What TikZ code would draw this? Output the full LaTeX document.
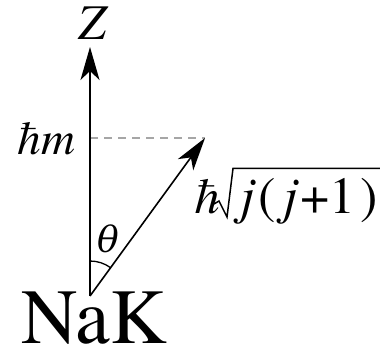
\documentclass[tikz,border=0pt]{standalone}
\usepackage{fontspec}
\IfFontExistsTF{texgyretermes-regular.otf}
 {\setmainfont{texgyretermes}[Extension=.otf,UprightFont=*-regular,ItalicFont=*-italic]}
 {\setmainfont{Liberation Serif}}
\newfontfamily\grkfont{DejaVu Serif}
\usetikzlibrary{arrows.meta,calc}
\tikzset{
  lbl/.style={inner sep=0pt, outer sep=0pt},
  vec/.style={line width=1.6pt, -{Stealth[length=33pt,width=19pt,inset=9pt]}},
  proj/.style={line width=1.3pt, gray!70, dash pattern=on 8pt off 6pt},
  anglearc/.style={line width=1.3pt},
}
\begin{document}
\begin{tikzpicture}[x=1pt,y=1pt]
\useasboundingbox (0,0) rectangle (380,351);
\coordinate (O) at (90,55);
\coordinate (Ztip) at (90,304);
\coordinate (Jtip) at (205,213);
\coordinate (Mz) at (90,213);
% labels
\node[lbl, anchor=base, font=\fontsize{50}{50}\selectfont\itshape] (Z) at (92,311) {Z};
\node[lbl, anchor=base east, font=\fontsize{47}{47}\selectfont\itshape] (hm) at (75,196) {ħm};
\node[lbl, anchor=base west, font=\fontsize{50}{50}\selectfont\itshape] (hbar) at (189,137) {ħ};
\node[lbl, anchor=base west, font=\fontsize{52}{52}\selectfont] (jj) at (240,137)
  {\textit{j}\kern3pt(\kern8pt\textit{j}\kern1pt+1\kern5pt)};
\node[lbl, anchor=base west, font=\fontsize{78}{78}\selectfont] (NaK) at (21,8) {NaK};
\node[lbl, font=\fontsize{36}{36}\selectfont\grkfont\itshape] (theta) at (108.5,112.5) {θ};
% radical
\draw[line width=1.5pt, line join=miter] (214,147) -- (219,150) -- (227,134) -- (233,182.5) -- (380,182.5);
% connectors
\draw[proj] (Mz) -- (Jtip);
\draw[vec] (O) -- (Ztip);
\draw[vec] (O) -- (Jtip);
\draw[anglearc] ($(O)+(90:35)$) arc[start angle=90, end angle=54, radius=35];
\end{tikzpicture}
\end{document}
